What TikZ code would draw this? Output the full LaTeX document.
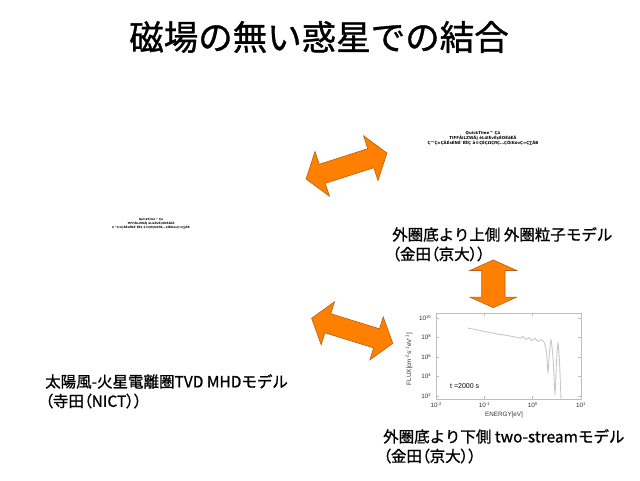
\documentclass[tikz,border=0pt]{standalone}
\usepackage{fontspec}
\setmainfont{Noto Sans CJK JP}[FakeBold=1]
\newfontfamily\paltfont{Noto Sans CJK JP}[RawFeature=+palt, FakeBold=1]
\newfontfamily\qtfont{DejaVu Sans}
\newfontfamily\plotfont{Liberation Sans}
\definecolor{arrfill}{RGB}{255,128,0}
\definecolor{arrline}{RGB}{185,95,20}
\definecolor{framegray}{RGB}{190,190,190}
\definecolor{curvegray}{RGB}{200,200,200}
\definecolor{labgray}{RGB}{50,50,50}
\newcommand\blockarrow[4]{%
  \draw[barrow] ({-(#1)/2},0) -- ({-(#1)/2+#2},{-#3}) -- ({-(#1)/2+#2},{-#4})
    -- ({(#1)/2-#2},{-#4}) -- ({(#1)/2-#2},{-#3}) -- ({(#1)/2},0)
    -- ({(#1)/2-#2},{#3}) -- ({(#1)/2-#2},{#4}) -- ({-(#1)/2+#2},{#4})
    -- ({-(#1)/2+#2},{#3}) -- cycle;}
\newcommand\tenpow[1]{10\raisebox{.6ex}{\fontsize{4.2}{4.2}\selectfont #1}}
\tikzset{
  barrow/.style={fill=arrfill, draw=arrline, line width=0.6pt, line join=miter},
  label/.style={anchor=north west, inner sep=0pt, align=left,
    font=\fontsize{15.5}{19.5}\selectfont},
  qtext/.style={inner sep=0pt, align=center, text=black},
  ticklab/.style={inner sep=0pt, text=labgray, font=\plotfont\fontsize{6.3}{7}\selectfont},
  tickline/.style={draw=framegray, line width=0.5pt}
}
\begin{document}
\begin{tikzpicture}[x=1pt, y=-1pt,
  declare function={ex(\e)=436+(\e+2)*48.3; fy(\f)=396-(\f-2)*9.75;}]
\useasboundingbox (0,0) rectangle (640,480);
\fill[white] (0,0) rectangle (640,480);

% title
\node[inner sep=0pt] (title) at (319,37) {\fontsize{34.5}{40}\selectfont 磁場の無い惑星での結合};

% placeholder image texts
\node[qtext, font=\qtfont\bfseries\fontsize{4}{5}\selectfont] (qt1) at (483,138)
  {QuickTime™ Ç∆\\TIFFÅiLZWÅj êLí£ÉvÉçÉOÉâÉÄ\\Ç™Ç±ÇÃÉsÉNÉ\textasciigrave ÉÉÇ å©ÇÈÇΩÇﬂÇ…ÇÕïKóvÇ≈Ç∑ÅB};
\node[qtext, font=\qtfont\bfseries\fontsize{2.8}{4}\selectfont] (qt2) at (151,224)
  {QuickTime™ Ç∆\\TIFFÅiLZWÅj êLí£ÉvÉçÉOÉâÉÄ\\Ç™Ç±ÇÃÉsÉNÉ\textasciigrave ÉÉÇ å©ÇÈÇΩÇﬂÇ…ÇÕïKóvÇ≈Ç∑ÅB};

% block arrows
\begin{scope}[shift={(346.5,166)}, rotate=17.8]
  \blockarrow{85}{17}{23.5}{10}
\end{scope}
\begin{scope}[shift={(352.2,330.8)}, rotate=-17.2]
  \blockarrow{85}{17}{22.5}{10}
\end{scope}
\begin{scope}[shift={(493.3,283.8)}, rotate=90]
  \blockarrow{47.7}{10.5}{23.3}{11.7}
\end{scope}

% labels
\node[label] (lab1) at (392,227) {外圏底より上側 外圏粒子モデル\\{\paltfont （金田（京大））}};
\node[label] (lab2) at (45,374) {太陽風-火星電離圏TVD MHDモデル\\{\paltfont （寺田（NICT））}};
\node[label] (lab3) at (383,429) {外圏底より下側 two-streamモデル\\{\paltfont （金田（京大））}};

% plot
\draw[framegray, line width=0.6pt] (436,313) rectangle (581,399);
\foreach \k in {2,4,6,8,10}{
  \draw[tickline] (436,{fy(\k)}) -- (439,{fy(\k)});
  \draw[tickline] (581,{fy(\k)}) -- (578,{fy(\k)});
  \node[ticklab, anchor=east] at (431,{fy(\k)}) {\tenpow{\k}};
}
\foreach \e/\s in {-2/-2,-1/-1,0/0,1/1}{
  \draw[tickline] ({ex(\e)},399) -- ({ex(\e)},396);
  \draw[tickline] ({ex(\e)},313) -- ({ex(\e)},316);
  \node[ticklab, anchor=north] at ({ex(\e)},402) {\tenpow{\s}};
}
\node[ticklab] (xlab) at (504,415) {ENERGY[eV]};
\node[ticklab, rotate=90] (ylab) at (409,359)
  {FLUX[cm\textsuperscript{-2}s\textsuperscript{-1}eV\textsuperscript{-1}]};
\node[ticklab, anchor=west, text=black, font=\plotfont\fontsize{7}{8}\selectfont] (tlab) at (450,386) {t =2000 s};
\draw[curvegray, line width=0.9pt] plot[smooth, tension=0.4] coordinates {
  (467.7,328) (480,330.5) (495,333.5) (510,336) (520,338) (523,336.5) (526,339.5)
  (529,337.5) (532,340.5) (535,338.5) (538,341.5) (541,339.5) (544,342)
  (546.5,352) (548,372) (549.5,352) (551,340) (553,358) (555,393) (556.5,362)
  (558,343) (559.5,362) (561,399)};
\end{tikzpicture}
\end{document}
